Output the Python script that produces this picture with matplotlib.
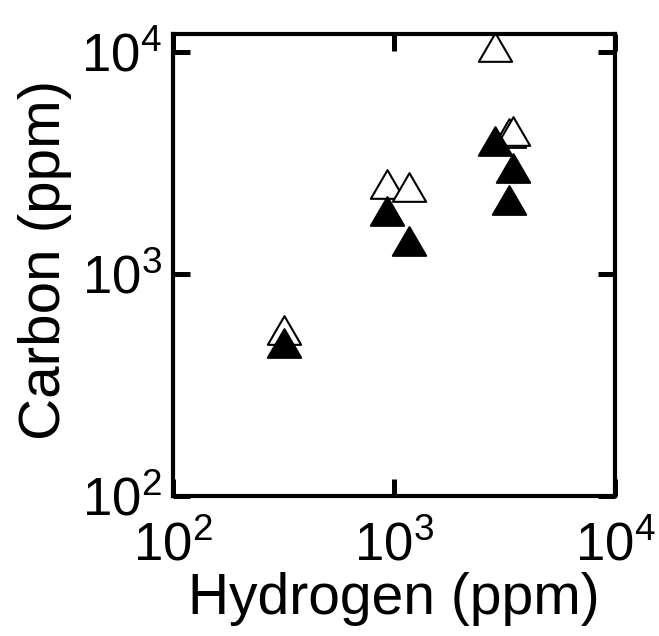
import numpy as np
import matplotlib
matplotlib.use("Agg")
import matplotlib.pyplot as plt
from matplotlib.path import Path
from matplotlib.ticker import FixedLocator, FuncFormatter

plt.rcParams['font.family'] = ['Liberation Sans', 'DejaVu Sans']
plt.rcParams['mathtext.fontset'] = 'custom'
plt.rcParams['mathtext.rm'] = 'Liberation Sans'

# open triangles
h_open = [2855, 927, 1172, 3311, 3470, 319]
c_open = [10500, 2540, 2470, 4300, 4415, 561]
# filled triangles
h_fill = [319, 927, 1172, 2855, 3470, 3311]
c_fill = [489, 1910, 1399, 3945, 2995, 2154]

# slightly squat triangle marker
tri = Path([(-1, -0.86), (1, -0.86), (0, 0.86), (-1, -0.86)],
           [Path.MOVETO, Path.LINETO, Path.LINETO, Path.CLOSEPOLY])

fig = plt.figure(figsize=(6.59, 6.36), dpi=100)
ax = fig.add_axes([0.2625, 0.2201, 0.6707, 0.7264])

ax.plot(h_open, c_open, linestyle='none', marker=tri, markersize=24,
        markerfacecolor='white', markeredgecolor='black', markeredgewidth=1.5,
        clip_on=False)
ax.plot(h_fill, c_fill, linestyle='none', marker=tri, markersize=24,
        markerfacecolor='black', markeredgecolor='black', markeredgewidth=1.5,
        clip_on=False)

ax.set_xscale('log')
ax.set_yscale('log')
ax.set_xlim(1e2, 1e4)
ax.set_ylim(1e2, 1.2e4)

fmt = FuncFormatter(lambda v, p: r'$\mathregular{10^{%d}}$' % round(np.log10(v)))
ax.xaxis.set_major_locator(FixedLocator([1e2, 1e3, 1e4]))
ax.yaxis.set_major_locator(FixedLocator([1e2, 1e3, 1e4]))
ax.xaxis.set_minor_locator(FixedLocator([]))
ax.yaxis.set_minor_locator(FixedLocator([]))
ax.xaxis.set_major_formatter(fmt)
ax.yaxis.set_major_formatter(fmt)

ax.tick_params(which='major', direction='in', length=12, width=3.6,
               top=True, right=True, labelsize=38)
ax.tick_params(axis='x', pad=18)
ax.tick_params(axis='y', pad=8)
for s in ax.spines.values():
    s.set_linewidth(3)

ax.set_xlabel('Hydrogen (ppm)', fontsize=41)
ax.set_ylabel('Carbon (ppm)', fontsize=42)
ax.xaxis.set_label_coords(0.5, -0.165)
ax.yaxis.set_label_coords(-0.2285, 0.51)

fig.savefig('out.png', dpi=100)
